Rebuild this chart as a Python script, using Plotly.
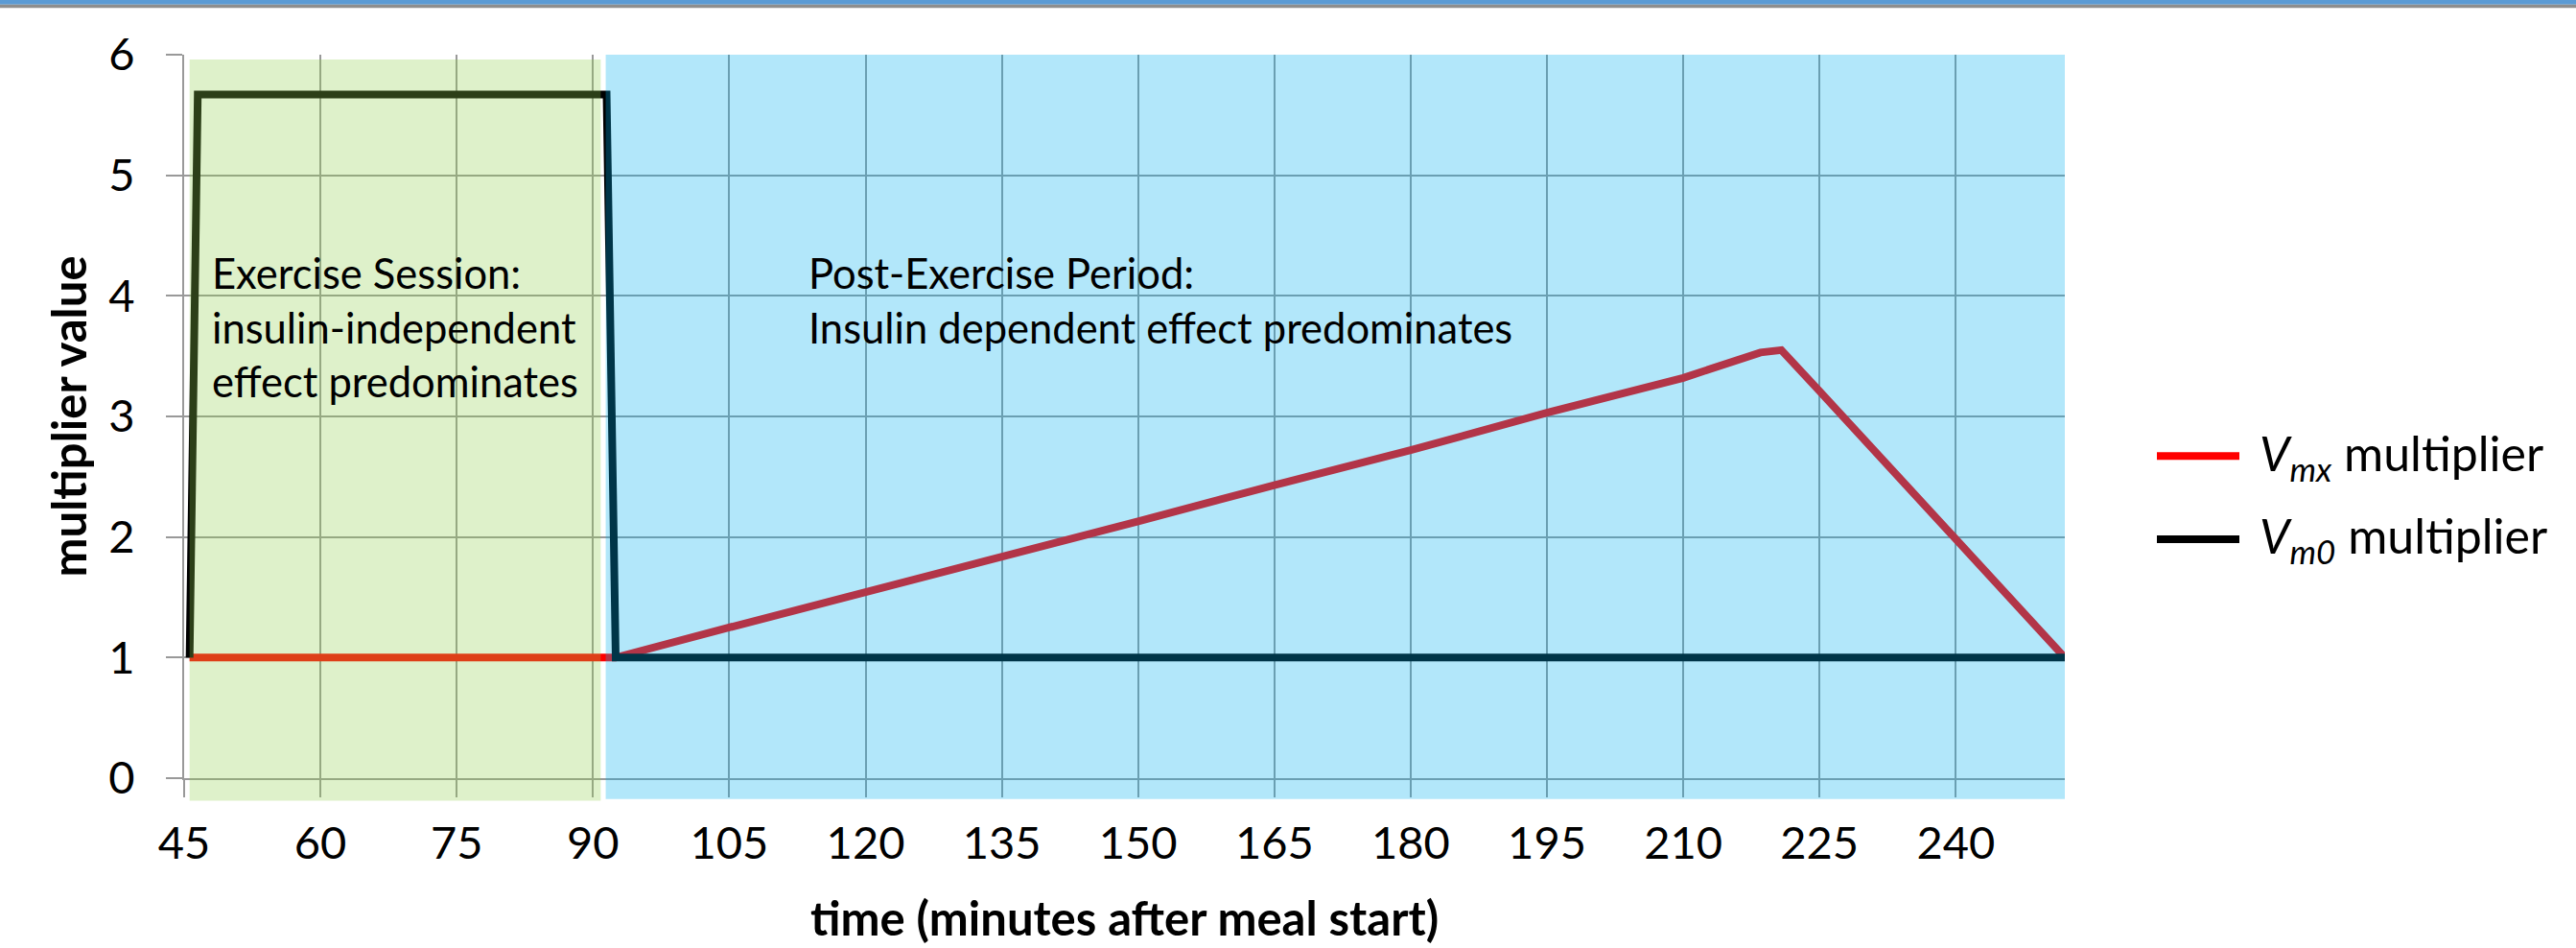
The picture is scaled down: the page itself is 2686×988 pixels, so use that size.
import plotly.graph_objects as go

# ---------------- data ----------------
time_vm0 = [45.6, 46.5, 91.5, 92.5, 252.0]
vm0_multiplier = [1.0, 5.67, 5.67, 1.0, 1.0]

time_vmx = [45.6, 92.5, 105, 120, 135, 150, 165, 180, 195, 210, 218.5, 220.8, 225, 240, 252.0]
vmx_multiplier = [1.0, 1.0, 1.25, 1.54, 1.84, 2.13, 2.43, 2.72, 3.03, 3.32, 3.53, 3.55, 3.21, 1.98, 1.0]

x_ticks = [45, 60, 75, 90, 105, 120, 135, 150, 165, 180, 195, 210, 225, 240]
y_ticks = [0, 1, 2, 3, 4, 5, 6]

series_names = ["<i>V<sub>mx</sub></i> multiplier", "<i>V<sub>m0</sub></i> multiplier"]
series_colors = ["#FF0000", "#000000"]

exercise_period = [45.6, 90.85]
post_exercise_period = [91.4, 252.0]

annotation_texts = [
    "Exercise Session:<br>insulin-independent<br>effect predominates",
    "Post-Exercise Period:<br>Insulin dependent effect predominates",
]

# ---------------- layout geometry (pixels) ----------------
W, H = 2686, 988
L, R, T, B = 192, 2153, 57, 823
FONT = "Lato"


def px_x(X):
    return (X - L) / (R - L)


def px_y(Y):
    return (B - Y) / (B - T)


fig = go.Figure()
fig.add_trace(go.Scatter(x=time_vmx, y=vmx_multiplier, mode="lines", name=series_names[0],
                         line=dict(color=series_colors[0], width=8), showlegend=False))
fig.add_trace(go.Scatter(x=time_vm0, y=vm0_multiplier, mode="lines", name=series_names[1],
                         line=dict(color=series_colors[1], width=8), showlegend=False))

shapes = [
    # shaded periods (semi-transparent overlays above the lines)
    dict(type="rect", xref="x", yref="paper", x0=exercise_period[0], x1=exercise_period[1],
         y0=px_y(847), y1=px_y(62), fillcolor="rgba(146,208,80,0.3)", line=dict(width=0), layer="above"),
    dict(type="rect", xref="x", yref="paper", x0=post_exercise_period[0], x1=post_exercise_period[1],
         y0=px_y(845), y1=px_y(57), fillcolor="rgba(0,176,240,0.3)", line=dict(width=0), layer="above"),
    # top window border
    dict(type="rect", xref="paper", yref="paper", x0=-0.2, x1=1.4, y0=px_y(4), y1=px_y(-2),
         fillcolor="#5B9BD5", line=dict(width=0), layer="above"),
    dict(type="rect", xref="paper", yref="paper", x0=-0.2, x1=1.4, y0=px_y(7.5), y1=px_y(4),
         fillcolor="#8E8E8E", line=dict(width=0), layer="above"),
    # legend samples
    dict(type="line", xref="paper", yref="paper", x0=px_x(2249), x1=px_x(2335), y0=px_y(482), y1=px_y(482),
         line=dict(color=series_colors[0], width=8)),
    dict(type="line", xref="paper", yref="paper", x0=px_x(2249), x1=px_x(2335), y0=px_y(570), y1=px_y(570),
         line=dict(color=series_colors[1], width=8)),
]

annotations = [
    dict(x=47.9, y=4.42, xref="x", yref="y", text=annotation_texts[0], showarrow=False,
         xanchor="left", yanchor="top", align="left", font=dict(family=FONT, size=43.5, color="#000")),
    dict(x=113.5, y=4.42, xref="x", yref="y", text=annotation_texts[1], showarrow=False,
         xanchor="left", yanchor="top", align="left", font=dict(family=FONT, size=43.5, color="#000")),
    dict(x=px_x(2354), y=px_y(482), xref="paper", yref="paper", text=series_names[0], showarrow=False,
         xanchor="left", yanchor="middle", font=dict(family=FONT, size=50, color="#000")),
    dict(x=px_x(2354), y=px_y(570), xref="paper", yref="paper", text=series_names[1], showarrow=False,
         xanchor="left", yanchor="middle", font=dict(family=FONT, size=50, color="#000")),
]

axis_common = dict(showgrid=True, gridcolor="#999999", gridwidth=2, showline=True, linecolor="#999999",
                   linewidth=2, ticks="outside", tickcolor="#999999", tickwidth=2, zeroline=False,
                   tickfont=dict(family=FONT, size=47, color="#000"))

fig.update_layout(
    width=W, height=H,
    margin=dict(l=L, r=W - R, t=T, b=H - B, pad=0),
    paper_bgcolor="white", plot_bgcolor="white",
    font=dict(family=FONT, color="#000"),
    shapes=shapes, annotations=annotations, showlegend=False,
    xaxis=dict(range=[45, 252], tickvals=x_ticks, ticklen=18, ticklabelstandoff=8,
               title=dict(text="time (minutes after meal start)", standoff=36,
                          font=dict(family=FONT, size=49, color="#000", weight="bold")),
               **axis_common),
    yaxis=dict(range=[0, 6], tickvals=y_ticks, ticklen=17, ticklabelstandoff=23,
               title=dict(text="multiplier value", standoff=7,
                          font=dict(family=FONT, size=49, color="#000", weight="bold")),
               **axis_common),
)

fig.write_html(
    "out.html",
    config={"displayModeBar": False},
    post_script="document.body.style.margin='0';document.body.style.padding='0';"
                "document.body.style.overflow='hidden';",
)
